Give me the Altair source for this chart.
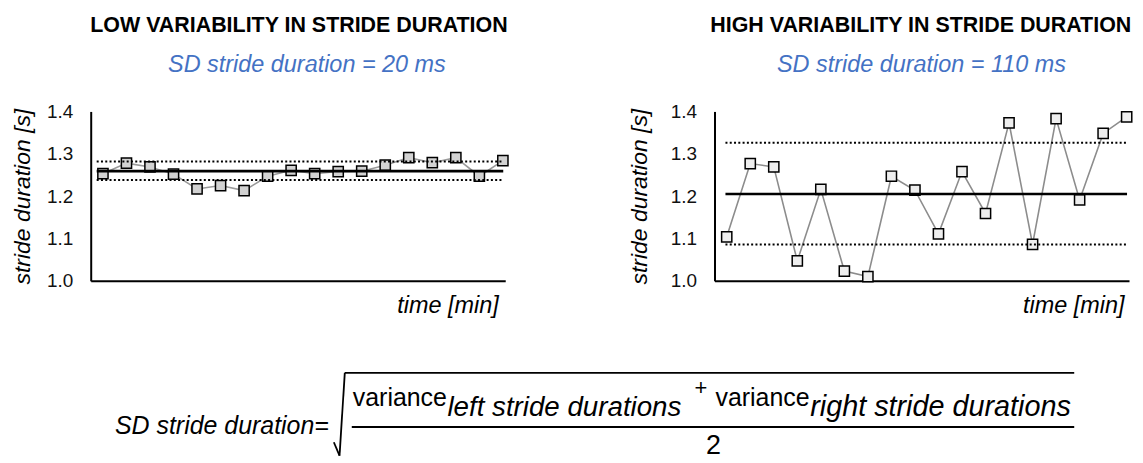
import altair as alt
import pandas as pd

FONT = "Liberation Sans"

# ---------------- data ----------------
stride_index = list(range(1, 19))

low_values = [1.253, 1.278, 1.269, 1.252, 1.217, 1.225, 1.213, 1.247, 1.261,
              1.253, 1.258, 1.259, 1.273, 1.291, 1.279, 1.291, 1.247, 1.284]
low_mean = 1.259
low_band = [1.238, 1.282]

high_values = [1.104, 1.277, 1.269, 1.047, 1.216, 1.023, 1.010, 1.247, 1.214,
               1.111, 1.258, 1.159, 1.373, 1.086, 1.383, 1.191, 1.348, 1.387]
high_mean = 1.205
high_band = [1.086, 1.326]

y_ticks = [1.0, 1.1, 1.2, 1.3, 1.4]

low_title = "LOW VARIABILITY IN STRIDE DURATION"
low_subtitle = "SD stride duration = 20 ms"
high_title = "HIGH VARIABILITY IN STRIDE DURATION"
high_subtitle = "SD stride duration = 110 ms"

x_title = "time [min]"
y_title = "stride duration [s]"

formula_lhs = "SD stride duration="
formula_var = "variance"
formula_left = "left stride durations"
formula_plus = "+"
formula_right = "right stride durations"
formula_den = "2"

W, H = 416, 170
BLUE = "#4472C4"


def panel(values, mean, band, title, subtitle, fill, line_color, line_start,
          ytitle_x, xtitle_x, title_x, subtitle_x, with_formula=False):
    df = pd.DataFrame({"i": stride_index, "v": values})
    xsc = alt.Scale(domain=[0.48, 18.1], nice=False, zero=False)
    ysc = alt.Scale(domain=[1.0, 1.4], nice=False, zero=False)
    xax = alt.Axis(title=x_title, labels=False, ticks=False, grid=False,
                   domainColor="black", domainWidth=2,
                   titleX=xtitle_x, titleY=32, titleAlign="right",
                   titleBaseline="alphabetic", titleFont=FONT,
                   titleFontSize=23.5, titleFontStyle="italic",
                   titleFontWeight="normal", titleColor="black")
    yax = alt.Axis(title=y_title, values=y_ticks, format=".1f", ticks=False,
                   grid=False, domainColor="black", domainWidth=2,
                   labelFont=FONT, labelFontSize=19, labelColor="#111111",
                   labelPadding=18,
                   titleX=ytitle_x, titleY=H / 2, titleAngle=270,
                   titleAlign="center", titleBaseline="alphabetic",
                   titleFont=FONT, titleFontSize=23, titleFontStyle="italic",
                   titleFontWeight="normal", titleColor="black")
    X = alt.X("i:Q", scale=xsc, axis=xax)
    Y = alt.Y("v:Q", scale=ysc, axis=yax)

    base = alt.Chart(df)
    conn = base.mark_line(color=line_color, strokeWidth=1.6).encode(x=X, y=Y)
    pts = base.mark_square(size=105, fill=fill, stroke="black",
                           strokeWidth=1.5, opacity=1).encode(x=X, y=Y)
    mean_rule = alt.Chart(pd.DataFrame({"v": [mean]})).mark_rule(
        color="black", strokeWidth=2.6).encode(
        y=Y, x=alt.value(line_start), x2=alt.value(W - 2))
    band_rule = alt.Chart(pd.DataFrame({"v": band})).mark_rule(
        color="black", strokeWidth=2, strokeDash=[2, 2.3]).encode(
        y=Y, x=alt.value(line_start), x2=alt.value(W - 2))

    t = alt.Chart(pd.DataFrame({"t": [title]})).mark_text(
        font=FONT, fontSize=21.5, fontWeight="bold", color="black",
        align="center", baseline="alphabetic").encode(
        text="t:N", x=alt.value(title_x), y=alt.value(-79.3))
    st = alt.Chart(pd.DataFrame({"t": [subtitle]})).mark_text(
        font=FONT, fontSize=23.5, fontStyle="italic", color=BLUE,
        align="center", baseline="alphabetic").encode(
        text="t:N", x=alt.value(subtitle_x), y=alt.value(-40))

    layers = [conn, pts, mean_rule, band_rule, t, st]

    if with_formula:
        # invisible corner marker fixing the page origin
        corner = alt.Chart(pd.DataFrame({"t": [""]})).mark_rule(
            color="white", strokeWidth=1).encode(
            x=alt.value(-82.5), x2=alt.value(-80.5),
            y=alt.value(-102.5), y2=alt.value(-102.5))
        layers.insert(0, corner)

        def txt(s, x, y, size, align="left", style="italic"):
            return alt.Chart(pd.DataFrame({"t": [s]})).mark_text(
                font=FONT, fontSize=size, fontStyle=style, color="black",
                align=align, baseline="alphabetic").encode(
                text="t:N", x=alt.value(x), y=alt.value(y))

        def seg(x1, y1, x2, y2, w=1.8):
            return alt.Chart(pd.DataFrame({"t": [0]})).mark_rule(
                color="black", strokeWidth=w).encode(
                x=alt.value(x1), y=alt.value(y1),
                x2=alt.value(x2), y2=alt.value(y2))

        layers += [
            txt(formula_lhs, 239, 324, 25, align="right"),
            seg(244, 332, 249.7, 345.5),
            seg(249.7, 345.5, 255, 262.3),
            seg(255, 262.3, 987, 262.3),
            seg(262, 316.7, 987, 316.7, 2),
            txt(formula_var, 263, 295.7, 25, style="normal"),
            txt(formula_left, 358, 306, 27.8),
            txt(formula_plus, 612.3, 285, 22, align="center", style="normal"),
            txt(formula_var, 627, 295.7, 25, style="normal"),
            txt(formula_right, 722, 306, 28.9),
            txt(formula_den, 625, 344, 27, align="center", style="normal"),
        ]

    return alt.layer(*layers).properties(width=W, height=H)


left = panel(low_values, low_mean, low_band, low_title, low_subtitle,
             "#d2d2d2", "#9a9a9a", 6, -61, 409, 209, 217, with_formula=True)
right = panel(high_values, high_mean, high_band, high_title, high_subtitle,
              "#eeeeee", "#8c8c8c", 11, -68, 411, 207, 207.7)

chart = alt.hconcat(left, right, spacing=210, bounds="flush").properties(
    padding=0
).configure_view(stroke=None)

chart.save("out.html", embed_options={"renderer": "svg", "actions": False})
